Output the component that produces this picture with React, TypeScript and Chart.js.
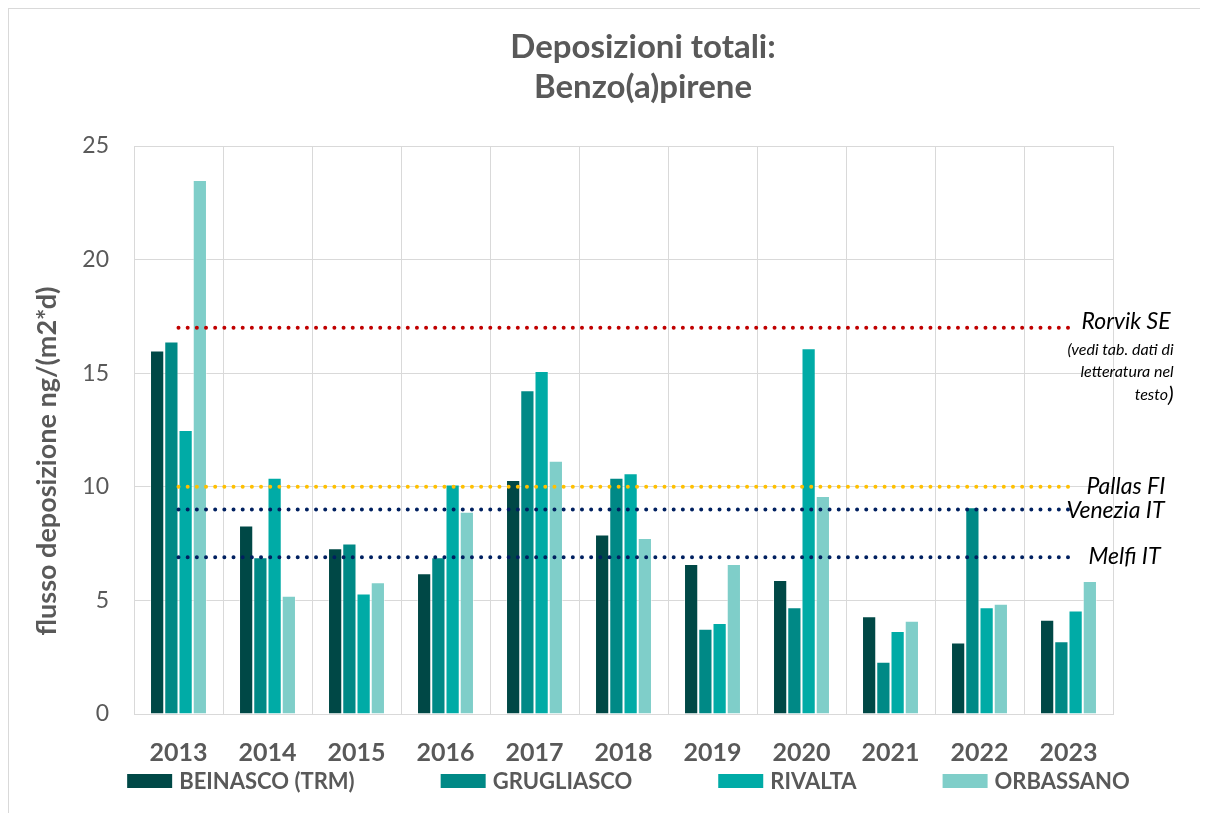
import React, { useEffect, useRef } from "react";
import { Chart, registerables } from "chart.js";

Chart.register(...registerables);

const years = ["2013", "2014", "2015", "2016", "2017", "2018", "2019", "2020", "2021", "2022", "2023"];
const beinasco = [16.0, 8.3, 7.3, 6.2, 10.3, 7.9, 6.6, 5.9, 4.3, 3.15, 4.15];
const grugliasco = [16.4, 6.9, 7.5, 6.9, 14.25, 10.4, 3.75, 4.7, 2.3, 9.1, 3.2];
const rivalta = [12.5, 10.4, 5.3, 10.1, 15.1, 10.6, 4.0, 16.1, 3.65, 4.7, 4.55];
const orbassano = [23.5, 5.2, 5.8, 8.9, 11.15, 7.75, 6.6, 9.6, 4.1, 4.85, 5.85];

const seriesNames = ["BEINASCO (TRM)", "GRUGLIASCO", "RIVALTA", "ORBASSANO"];
const seriesColors = ["#004846", "#008986", "#00aba6", "#7fcec9"];

const refNames = ["Rorvik SE", "Pallas FI", "Venezia IT", "Melfi IT"];
const refValues = [17, 10, 9, 6.9];
const refColors = ["#c00000", "#ffc000", "#002060", "#002060"];
const refNote = ["(vedi tab. dati di", "letteratura nel", "testo)"];

const titleLines = ["Deposizioni totali:", "Benzo(a)pirene"];
const yTitle = "flusso deposizione ng/(m2*d)";
const yTicks = [0, 5, 10, 15, 20, 25];

const FONT = "Lato, 'Open Sans', sans-serif";
const TEXT = "#595959";

const overlay = {
  id: "overlay",
  afterDraw(chart: any) {
    const ctx = chart.ctx as CanvasRenderingContext2D;
    ctx.save();
    ctx.fillStyle = TEXT;
    ctx.textAlign = "center";
    ctx.textBaseline = "middle";
    ctx.font = `bold 33px ${FONT}`;
    titleLines.forEach((t, i) => ctx.fillText(t, 634, 38 + i * 40));

    ctx.save();
    ctx.translate(38, 452);
    ctx.rotate(-Math.PI / 2);
    ctx.font = `bold 27px ${FONT}`;
    ctx.fillText(yTitle, 0, 0);
    ctx.restore();

    // legend
    ctx.font = `bold 22px ${FONT}`;
    const boxW = 45, boxH = 14, gapBT = 7, gapItem = 86;
    const widths = seriesNames.map((n) => ctx.measureText(n).width);
    let total = 0;
    widths.forEach((w, i) => { total += boxW + gapBT + w + (i < widths.length - 1 ? gapItem : 0); });
    let x = 619.5 - total / 2;
    const ly = 772;
    ctx.textAlign = "left";
    seriesNames.forEach((n, i) => {
      ctx.fillStyle = seriesColors[i];
      ctx.fillRect(x, ly - boxH / 2, boxW, boxH);
      ctx.fillStyle = TEXT;
      ctx.fillText(n, x + boxW + gapBT, ly + 1);
      x += boxW + gapBT + widths[i] + gapItem;
    });

    // reference labels
    const offsets = [13, 18, -2, 20];
    const dys = [-6, 0, 1, -1];
    ctx.fillStyle = "#000000";
    refNames.forEach((n, i) => {
      const meta = chart.getDatasetMeta(4 + i);
      const pt = meta.data[meta.data.length - 1];
      ctx.font = `italic 23px ${FONT}`;
      ctx.textAlign = "left";
      const lx = pt.x + offsets[i];
      ctx.fillText(n, lx, pt.y + dys[i]);
      if (i === 0) {
        const right = lx + ctx.measureText(n).width + 3;
        ctx.textAlign = "right";
        ctx.font = `italic 16px ${FONT}`;
        const noteY = [22, 44, 67];
        refNote.forEach((t, k) => {
          if (k === refNote.length - 1) {
            ctx.font = `italic 22px ${FONT}`;
            const pw = ctx.measureText(")").width;
            ctx.fillText(")", right, pt.y + noteY[k]);
            ctx.font = `italic 16px ${FONT}`;
            ctx.fillText(t.slice(0, -1), right - pw, pt.y + noteY[k]);
          } else {
            ctx.fillText(t, right, pt.y + noteY[k]);
          }
        });
      }
    });
    ctx.restore();
  },
};

export default function App() {
  const ref = useRef<HTMLCanvasElement | null>(null);
  useEffect(() => {
    if (!ref.current) return;
    const bars = [beinasco, grugliasco, rivalta, orbassano].map((d, i) => ({
      type: "bar" as const,
      label: seriesNames[i],
      data: d,
      backgroundColor: seriesColors[i],
      borderColor: "rgba(255,255,255,0.45)",
      borderWidth: 1,
      categoryPercentage: 0.64,
      barPercentage: 1,
      order: 2,
    }));
    const lines = refValues.map((v, i) => ({
      type: "line" as const,
      label: refNames[i],
      data: years.map(() => v),
      borderColor: refColors[i],
      borderWidth: 4,
      borderDash: [0, 9.17],
      borderCapStyle: "round" as const,
      pointRadius: 0,
      fill: false,
      order: 0,
    }));
    const chart = new Chart(ref.current, {
      type: "bar",
      data: { labels: years, datasets: [...bars, ...lines] as any },
      options: {
        responsive: false,
        animation: false,
        layout: { padding: { top: 137, right: 87, left: 0, bottom: 0 } },
        plugins: { legend: { display: false }, title: { display: false }, tooltip: { enabled: false } },
        scales: {
          x: {
            grid: { color: "#d9d9d9", drawTicks: false, tickLength: 0, offset: true },
            border: { color: "#d9d9d9" },
            ticks: { color: TEXT, font: { family: FONT, size: 25, weight: "bold" }, padding: 24 },
            afterFit: (s: any) => { s.height = 99; },
          },
          y: {
            min: 0,
            max: 25,
            afterBuildTicks: (s: any) => { s.ticks = yTicks.map((v) => ({ value: v })); },
            grid: { color: "#d9d9d9", drawTicks: false, tickLength: 0 },
            border: { color: "#d9d9d9" },
            ticks: { color: TEXT, font: { family: FONT, size: 23 }, padding: 25 },
            afterFit: (s: any) => { s.width = 125; },
          },
        },
      },
      plugins: [overlay],
    });
    return () => chart.destroy();
  }, []);
  return (
    <div
      style={{
        width: 1192,
        height: 805,
        overflow: "hidden",
        borderTop: "1px solid #d9d9d9",
        borderLeft: "1px solid #d9d9d9",
        boxSizing: "border-box",
      }}
    >
      <canvas ref={ref} width={1191} height={804} style={{ display: "block", width: 1191, height: 804 }} />
    </div>
  );
}
